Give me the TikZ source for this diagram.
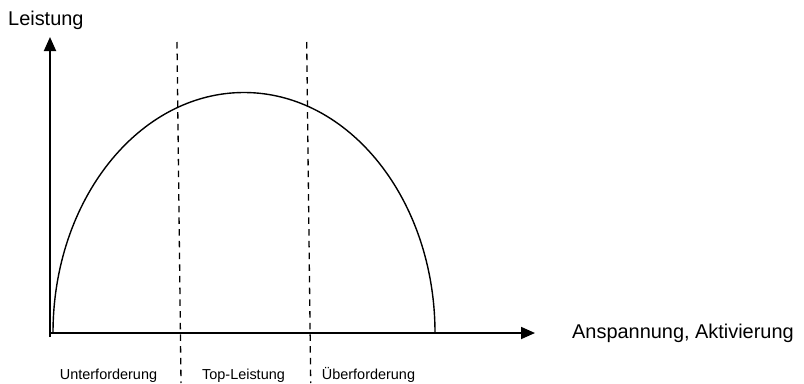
\documentclass[tikz,border=0pt]{standalone}
\usepackage{fontspec}
\setmainfont{Liberation Sans}
\usepackage{tikz}
\usetikzlibrary{arrows.meta}

\begin{document}
\begin{tikzpicture}[x=1bp, y=1bp, >={Triangle[length=14bp,width=12bp]}, line join=round,
  axis/.style={line width=1.8bp, ->},
  bound/.style={line width=1.3bp, dash pattern=on 6.5bp off 5.2bp},
  bigtxt/.style={font=\fontsize{20}{24}\selectfont, inner sep=0pt},
  zonetxt/.style={font=\fontsize{14.5}{17}\selectfont, inner sep=0pt, anchor=base}]
  \useasboundingbox (0,0) rectangle (804,383);
  \coordinate (O) at (50,50);
  \coordinate (Ybot) at (50,46);
  \coordinate (Ytip) at (50,346);
  \coordinate (Xtip) at (535,50);
  \coordinate (D1top) at (177,341);
  \coordinate (D1bot) at (181,0);
  \coordinate (D2top) at (306.7,341);
  \coordinate (D2bot) at (310.7,0);
  \coordinate (C0) at (53,50);
  % zone boundaries
  \draw[bound] (D1top) -- (D1bot);
  \draw[bound] (D2top) -- (D2bot);
  % performance curve
  \draw[line width=1.4bp] (C0) arc[start angle=180, end angle=0, x radius=191, y radius=240.5];
  % axes
  \draw[axis] (Ybot) -- (Ytip);
  \draw[axis] (O) -- (Xtip);
  \node[bigtxt, anchor=base west] (ylab) at (8,358) {Leistung};
  \node[bigtxt, anchor=base west] (xlab) at (572,45) {Anspannung, Aktivierung};
  \node[zonetxt] (under) at (108.5,4) {Unterforderung};
  \node[zonetxt] (top) at (243.5,4) {Top-Leistung};
  \node[zonetxt] (over) at (368.5,4) {Überforderung};
\end{tikzpicture}
\end{document}
